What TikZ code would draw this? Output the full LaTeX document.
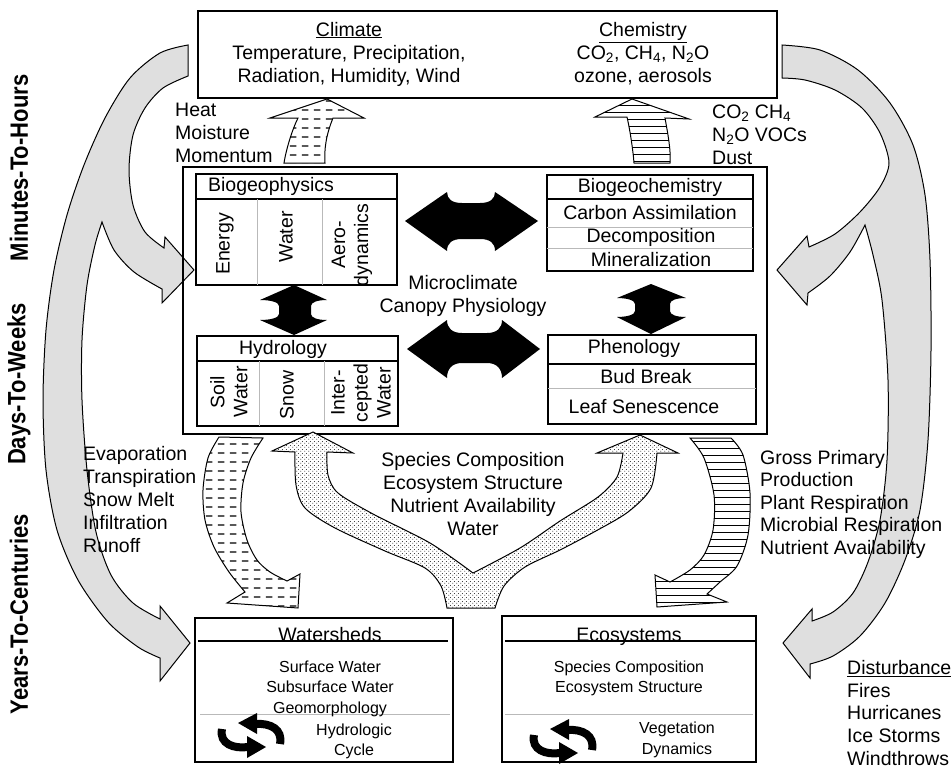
\documentclass[tikz,border=0pt]{standalone}
\usepackage{fontspec}
\setmainfont{Liberation Sans}
\newfontfamily\narrowfam[FakeStretch=0.88]{Liberation Sans}
\usetikzlibrary{patterns}

\pgfdeclarepatternformonly{dashrows}{\pgfqpoint{0pt}{0pt}}{\pgfqpoint{12pt}{8.5pt}}{\pgfqpoint{12pt}{8.5pt}}{%
  \pgfsetlinewidth{1.25pt}%
  \pgfpathmoveto{\pgfqpoint{2pt}{4.25pt}}\pgfpathlineto{\pgfqpoint{9pt}{4.25pt}}\pgfusepath{stroke}}
\pgfdeclarepatternformonly{stripes}{\pgfqpoint{0pt}{0pt}}{\pgfqpoint{100pt}{1.2pt}}{\pgfqpoint{100pt}{7pt}}{%
  \pgfsetlinewidth{0.9pt}%
  \pgfpathmoveto{\pgfqpoint{0pt}{0.6pt}}\pgfpathlineto{\pgfqpoint{100pt}{0.6pt}}\pgfusepath{stroke}}
\pgfdeclarepatternformonly{dotgrid}{\pgfqpoint{0pt}{0pt}}{\pgfqpoint{4pt}{4pt}}{\pgfqpoint{4pt}{4pt}}{%
  \pgfpathcircle{\pgfqpoint{1pt}{1pt}}{0.6pt}\pgfpathcircle{\pgfqpoint{3pt}{3pt}}{0.6pt}\pgfusepath{fill}}

\tikzset{
  box/.style={draw, line width=1.3pt, inner sep=0pt},
  hdr/.style={line width=1.2pt},
  divider/.style={draw=gray!55, line width=0.8pt},
  txt/.style={font=\fontsize{19.5}{23}\selectfont, inner sep=0pt},
  smalltxt/.style={font=\fontsize{16}{20.5}\selectfont, inner sep=0pt},
  sidelabel/.style={font=\fontsize{25}{28}\narrowfam\bfseries, inner sep=0pt, rotate=90},
  grayarrow/.style={draw, line width=1pt, fill=gray!25},
  patarrow/.style={draw, line width=1pt, preaction={fill=white}},
  cycleicon/.pic={
    \draw[line width=8pt] (28,9) .. controls (31,-6) and (18,-12) .. (4,-11);
    \fill (-14,-12) -- (5,-22) -- (5,-1) -- cycle;
    \draw[line width=8pt] (-30,-6) .. controls (-33,9) and (-18,14) .. (-4,12);
    \fill (14,12) -- (-5,1) -- (-5,23) -- cycle;
  }
}

\begin{document}
\begin{tikzpicture}[x=1pt,y=-1pt]
\useasboundingbox (0,0) rectangle (952,771);
\fill[white] (0,0) rectangle (952,771);

% ---------- big gray arrows ----------
\draw[grayarrow]
 plot[smooth] coordinates {(188,45) (160,53) (130,78) (105,118) (84,165) (67,215) (54,270) (46,330) (43,400) (46,470) (57,530) (78,580) (108,622) (138,647) (160,658)}
 -- (160,681) -- (190,643) -- (160,606)
 -- plot[smooth] coordinates {(160,619) (133,603) (111,575) (96,532) (87,470) (82,400) (82,340) (87,285) (95,245) (102,222)}
 -- plot[smooth] coordinates {(102,222) (114,250) (134,272) (162,289)}
 -- (162,303) -- (194,270) -- (165,237)
 -- plot[smooth] coordinates {(164,248) (145,232) (133,205) (129,170) (133,135) (145,108) (163,88) (188,76)}
 -- cycle;

\draw[grayarrow]
 plot[smooth] coordinates {(782,45) (820,50) (858,70) (890,103) (913,145) (925,195) (930,260) (931,350) (928,440) (920,510) (905,560) (885,603) (860,636) (833,656) (810,664)}
 -- (810,678) -- (783,643) -- (812,609)
 -- plot[smooth] coordinates {(812,621) (833,612) (853,593) (868,562) (880,520) (887,460) (888,380) (882,300) (873,255) (865,225)}
 -- plot[smooth] coordinates {(865,225) (850,252) (830,276) (808,293)}
 -- (807,305) -- (777,270) -- (807,236)
 -- plot[smooth] coordinates {(809,247) (835,234) (860,212) (880,187) (889,163) (880,133) (862,108) (835,90) (805,80) (782,78)}
 -- cycle;

% ---------- boxes ----------
\node[box, minimum width=579pt, minimum height=87pt] (topbox) at (487.5,54.5) {};
\node[box, minimum width=584pt, minimum height=267pt] (midbox) at (475,300.5) {};
\node[box, minimum width=201pt, minimum height=111pt] (geophys) at (296.5,229.5) {};
\node[box, minimum width=201pt, minimum height=90pt] (hydro) at (297.5,381) {};
\node[box, minimum width=206pt, minimum height=96pt] (geochem) at (650,223) {};
\node[box, minimum width=208pt, minimum height=89pt] (pheno) at (652,379.5) {};
\node[box, minimum width=258pt, minimum height=144pt] (water) at (324,690) {};
\node[box, minimum width=254pt, minimum height=146pt] (eco) at (629,689) {};

% box inner lines
\draw[hdr] (196,199) -- (397,199);
\draw[divider] (257,199) -- (257,285) (322,199) -- (322,285);
\draw[hdr] (197,361) -- (398,361);
\draw[divider] (259,361) -- (259,426) (324,361) -- (324,426);
\draw[hdr] (547,199) -- (753,199);
\draw[divider] (547,227) -- (753,227) (547,248) -- (753,248);
\draw[hdr] (548,364) -- (757,364);
\draw[divider] (548,388) -- (756,388);
\draw[hdr] (198,641) -- (448,641);
\draw[divider] (200,714) -- (450,714);
\draw[hdr] (505,641) -- (755,641);
\draw[divider] (505,714) -- (753,714);

% ---------- patterned arrows ----------
\draw[patarrow, pattern=dashrows] (327,99) -- (364,118) -- (333,118) .. controls (326,135) and (324,150) .. (325,163) -- (284,163) .. controls (286,150) and (292,130) .. (298,118) -- (270,118) -- cycle;
\draw[patarrow, pattern=stripes] (632,99) -- (689,119) -- (665,118) .. controls (668,135) and (671,150) .. (670,163) -- (634,163) .. controls (633,150) and (630,130) .. (627,117) -- (595,117) -- cycle;

\draw[patarrow, pattern=dashrows]
 plot[smooth] coordinates {(219,437) (208,458) (203,490) (205,520) (214,547) (229,572) (245,592)}
 -- (227,603) -- (298,608) -- (300,574)
 -- plot[smooth] coordinates {(287,581) (270,572) (257,560) (247,540) (241,512) (243,483) (251,458) (263,438)}
 -- cycle;
\draw[patarrow, pattern=stripes]
 plot[smooth] coordinates {(731,438) (743,455) (750,493) (748,535) (737,566) (720,582) (707,594)}
 -- (727,602) -- (657,607) -- (655,575)
 -- plot[smooth] coordinates {(670,582) (690,570) (704,555) (713,530) (714,495) (704,458) (690,438)}
 -- cycle;
\draw[patarrow, pattern=dotgrid]
 plot[smooth] coordinates {(447,608) (441,586) (425,568) (385,551) (335,528) (305,508) (296,485) (295,452)}
 -- (272,451) -- (313,432) -- (353,453)
 -- plot[smooth] coordinates {(327,452) (328,475) (338,493) (373,514) (430,543) (473,573)}
 -- plot[smooth] coordinates {(473,573) (520,548) (560,521) (598,497) (617,477) (623,453)}
 -- (597,453) -- (640,435) -- (678,453)
 -- plot[smooth] coordinates {(657,453) (651,488) (628,512) (594,532) (560,550) (525,567) (504,586) (495,608)}
 -- cycle;

% ---------- black double arrows ----------
\fill (405,221) -- (447,192) .. controls (447,199) and (452,203) .. (462,203) -- (480,203) .. controls (490,203) and (495,199) .. (495,192) -- (538,221) -- (495,251) .. controls (495,243) and (490,239) .. (480,239) -- (462,239) .. controls (452,239) and (447,243) .. (447,251) -- cycle;
\fill (407,349) -- (447,320) .. controls (447,328) and (452,333) .. (462,333) -- (487,333) .. controls (497,333) and (502,328) .. (502,320) -- (540,349) -- (502,378) .. controls (502,369) and (497,363) .. (487,363) -- (462,363) .. controls (452,363) and (447,369) .. (447,378) -- cycle;
\fill (294,285) -- (327,300) .. controls (318,300) and (311,302) .. (311,306) -- (311,314) .. controls (311,318) and (318,320) .. (327,320) -- (294,335) -- (260,320) .. controls (270,320) and (279,318) .. (279,314) -- (279,306) .. controls (279,302) and (270,300) .. (260,300) -- cycle;
\fill (651,284) -- (686,298) .. controls (677,298) and (670,300) .. (670,304) -- (670,311) .. controls (670,315) and (677,317) .. (686,317) -- (651,334) -- (617,317) .. controls (626,317) and (635,315) .. (635,311) -- (635,304) .. controls (635,300) and (626,298) .. (617,298) -- cycle;

% cycle icons
\pic (cycw) at (252,735) {cycleicon};
\pic (cyce) at (564,741) {cycleicon};

% ---------- texts ----------
\node[sidelabel] (lab1) at (19,168) {Minutes-To-Hours};
\node[sidelabel] (lab2) at (19,384) {Days-To-Weeks};
\node[sidelabel] (lab3) at (19,614) {Years-To-Centuries};

\node[txt, align=center] (climate) at (349,54) {\underline{Climate}\\Temperature, Precipitation,\\Radiation, Humidity, Wind};
\node[txt, align=center] (chem) at (643,54) {\underline{Chemistry}\\CO\textsubscript{2}, CH\textsubscript{4}, N\textsubscript{2}O\\ozone, aerosols};
\node[txt, align=left, anchor=west] (heat) at (175,133) {Heat\\Moisture\\Momentum};
\node[txt, align=left, anchor=west] (gases) at (712,134.5) {CO\textsubscript{2} CH\textsubscript{4}\\N\textsubscript{2}O VOCs\\Dust};

\node[txt] (tgeophys) at (271,186) {Biogeophysics};
\node[txt, rotate=90] (tenergy) at (225,244) {Energy};
\node[txt, rotate=90] (twater) at (286,237) {Water};
\node[txt, rotate=90, align=center] (taero) at (352,245) {Aero-\\dynamics};
\node[txt] (thydro) at (283,349) {Hydrology};
\node[txt, rotate=90, align=center] (tsoil) at (229,392) {Soil\\Water};
\node[txt, rotate=90] (tsnow) at (287,395) {Snow};
\node[txt, rotate=90, align=center] (tinter) at (361,393) {Inter-\\cepted\\Water};

\node[txt] (tgeochem) at (650,187) {Biogeochemistry};
\node[txt] (tcarbon) at (650,213) {Carbon Assimilation};
\node[txt] (tdecomp) at (651,237) {Decomposition};
\node[txt] (tmineral) at (651,260) {Mineralization};
\node[txt] (tpheno) at (634,348) {Phenology};
\node[txt] (tbud) at (646,377) {Bud Break};
\node[txt] (tleaf) at (644,407) {Leaf Senescence};

\node[txt, align=center] (tmicro) at (463,296) {Microclimate\\Canopy Physiology};
\node[txt, align=center] (tspecies) at (473,494) {Species Composition\\Ecosystem Structure\\Nutrient Availability\\Water};
\node[txt, align=left, anchor=west] (tevap) at (83,500) {Evaporation\\Transpiration\\Snow Melt\\Infiltration\\Runoff};
\node[txt, align=left, anchor=west, font=\fontsize{19.5}{22.5}\selectfont] (tgpp) at (760,504) {Gross Primary\\Production\\Plant Respiration\\Microbial Respiration\\Nutrient Availability};
\node[txt, align=left, anchor=west, font=\fontsize{19.5}{22.8}\selectfont] (tdist) at (847,713) {\underline{Disturbance}\\Fires\\Hurricanes\\Ice Storms\\Windthrows};

\node[txt, anchor=base] (twatershed) at (330,641) {Watersheds};
\node[smalltxt, align=center] (tsurf) at (330,688.5) {Surface Water\\Subsurface Water\\Geomorphology};
\node[smalltxt, align=center, font=\fontsize{16}{19.5}\selectfont] (thydcyc) at (354,741.5) {Hydrologic\\Cycle};
\node[txt, anchor=base] (tecosys) at (629,641) {Ecosystems};
\node[smalltxt, align=center] (tspec2) at (629,678.5) {Species Composition\\Ecosystem Structure};
\node[smalltxt, align=center] (tveg) at (677,740) {Vegetation\\Dynamics};
\end{tikzpicture}
\end{document}
